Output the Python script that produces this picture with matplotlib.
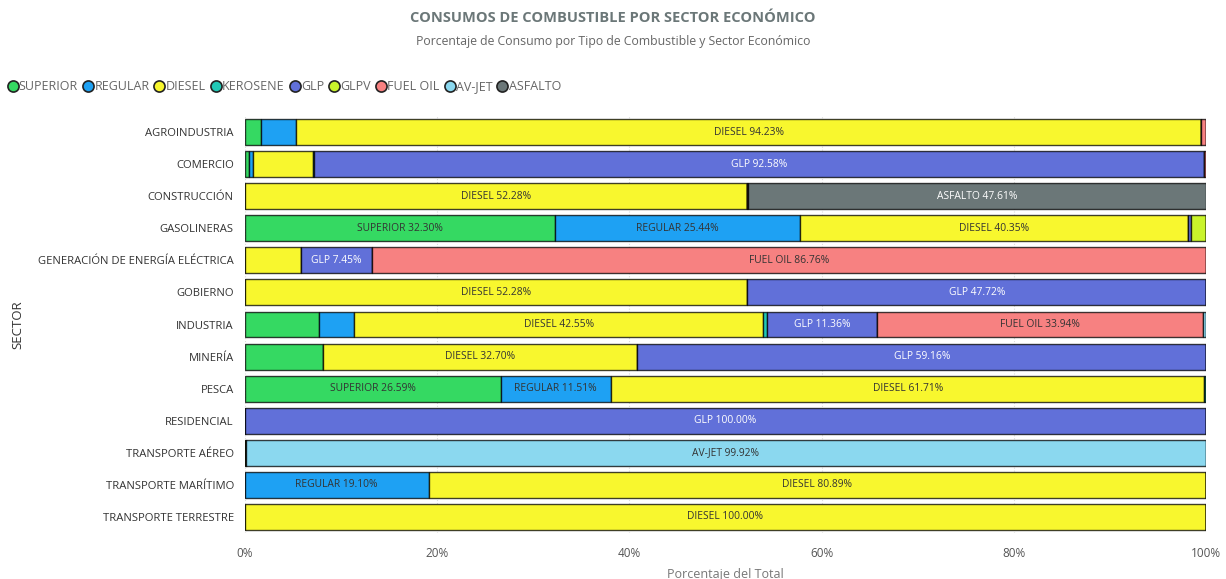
import numpy as np
import matplotlib.pyplot as plt
from matplotlib.lines import Line2D
from matplotlib.ticker import PercentFormatter

plt.rcParams['font.family'] = ['Open Sans', 'DejaVu Sans']

# Data (percent of each sector's consumption)
sectors = ["AGROINDUSTRIA", "COMERCIO", "CONSTRUCCIÓN", "GASOLINERAS",
           "GENERACIÓN DE ENERGÍA ELÉCTRICA", "GOBIERNO", "INDUSTRIA", "MINERÍA",
           "PESCA", "RESIDENCIAL", "TRANSPORTE AÉREO", "TRANSPORTE MARÍTIMO",
           "TRANSPORTE TERRESTRE"]
fuels = ["SUPERIOR", "REGULAR", "DIESEL", "KEROSENE", "GLP", "GLPV",
         "FUEL OIL", "AV-JET", "ASFALTO"]

superior = [1.65, 0.45, 0, 32.30, 0, 0, 7.73, 8.14, 26.59, 0, 0, 0, 0]
regular  = [3.65, 0.35, 0, 25.44, 0, 0, 3.64, 0, 11.51, 0, 0, 19.10, 0]
diesel   = [94.23, 6.30, 52.28, 40.35, 5.79, 52.28, 42.55, 32.70, 61.71, 0, 0.08, 80.89, 100.00]
kerosene = [0, 0.10, 0, 0, 0, 0, 0.45, 0, 0.19, 0, 0, 0, 0]
glp      = [0, 92.58, 0, 0.36, 7.45, 47.72, 11.36, 59.16, 0, 100.00, 0, 0, 0]
glpv     = [0, 0, 0, 1.55, 0, 0, 0, 0, 0, 0, 0, 0, 0]
fuel_oil = [0.47, 0.22, 0.11, 0, 86.76, 0, 33.94, 0, 0, 0, 0, 0, 0]
av_jet   = [0, 0, 0, 0, 0, 0, 0.33, 0, 0, 0, 99.92, 0, 0]
asfalto  = [0, 0, 47.61, 0, 0, 0, 0, 0, 0, 0, 0, 0, 0]

series = [superior, regular, diesel, kerosene, glp, glpv, fuel_oil, av_jet, asfalto]
colors = ["#35d962", "#1ea1f3", "#f8f72e", "#21c9b6", "#6170d9", "#c9f42b",
          "#f78181", "#8bd8ef", "#6b7778"]
text_colors = ["#333333", "#333333", "#333333", "#333333", "white", "#333333",
               "#333333", "#333333", "white"]

fig = plt.figure(figsize=(12.26, 5.79), dpi=100)
ax = fig.add_axes([0.1998, 0.0794, 0.7839, 0.7203])

y = np.arange(len(sectors))
left = np.zeros(len(sectors))
fig.canvas.draw()
renderer = fig.canvas.get_renderer()
px_per_pct = ax.get_window_extent().width / 100.0

for name, vals, col, tcol in zip(fuels, series, colors, text_colors):
    vals = np.array(vals, dtype=float)
    ax.barh(y, vals, left=left, height=0.81, color=col,
            edgecolor=(0, 0, 0, 0.75), linewidth=1.0, zorder=3)
    for i, v in enumerate(vals):
        if v <= 0:
            continue
        t = ax.text(left[i] + v / 2, y[i], f"{name} {v:.2f}%", ha="center",
                    va="center", fontsize=7.4, color=tcol, zorder=4)
        w = t.get_window_extent(renderer).width
        if w + 10 > v * px_per_pct:
            t.remove()
    left += vals

ax.set_xlim(0, 100)
ax.set_ylim(len(sectors) - 0.5, -0.5)
ax.set_yticks(y)
ax.set_yticklabels(sectors, fontsize=8.1, color="#333333")
ax.xaxis.set_major_formatter(PercentFormatter(decimals=0))
ax.set_xticks(np.arange(0, 101, 20))
ax.tick_params(axis="x", labelsize=8.5, colors="#555555", length=0, pad=10)
ax.tick_params(axis="y", length=0, pad=8)
ax.grid(axis="x", color="#dddddd", linestyle=":", linewidth=0.8, zorder=0)
for s in ax.spines.values():
    s.set_visible(False)
ax.set_xlabel("Porcentaje del Total", fontsize=9, color="#777777", labelpad=6)
ax.set_ylabel("SECTOR", fontsize=9.5, color="#333333")
ax.yaxis.set_label_coords(-0.23, 0.5)

fig.text(0.5, 0.969, "CONSUMOS DE COMBUSTIBLE POR SECTOR ECONÓMICO", ha="center",
         va="center", fontsize=10.5, fontweight="bold", color="#6b7778")
fig.text(0.5, 0.929, "Porcentaje de Consumo por Tipo de Combustible y Sector Económico",
         ha="center", va="center", fontsize=8.8, color="#666666")

handles = [Line2D([], [], marker="o", linestyle="", markersize=8,
                  markerfacecolor=c, markeredgecolor="#222222", markeredgewidth=1.2)
           for c in colors]
fig.legend(handles, fuels, loc="center left", bbox_to_anchor=(-0.004, 0.85), ncol=9,
           frameon=False, handletextpad=0.0, columnspacing=0.3, handlelength=1.0,
           fontsize=9, labelcolor="#666666")

fig.savefig("out.png", dpi=100)
